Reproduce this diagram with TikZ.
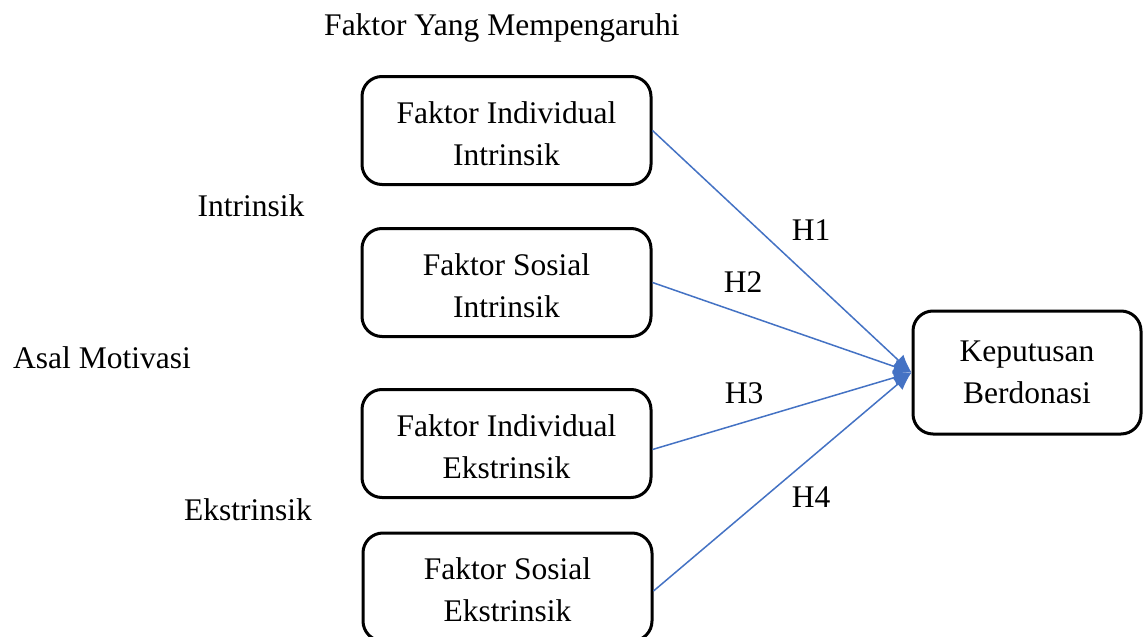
\documentclass[tikz,border=0pt]{standalone}
\usepackage{fontspec}
\setmainfont{Liberation Serif}
\usetikzlibrary{arrows.meta}
\definecolor{lineblue}{RGB}{68,114,196}
\newcommand{\boxtxt}[2]{\raisebox{-3pt}[\height][\depth]{\parbox{280pt}{\centering #1\\#2}}}
\begin{document}
\begin{tikzpicture}[x=1pt,y=-1pt,
  box/.style={draw,line width=3pt,rounded corners=20pt,align=center,
    minimum width=289pt,minimum height=108pt,inner sep=0pt,
    font=\fontsize{31.5}{42}\selectfont},
  lbl/.style={font=\fontsize{31.5}{42}\selectfont,inner sep=0pt},
  conn/.style={draw=lineblue,line width=1.5pt,-{Latex[length=18pt,width=15pt]}}]
\useasboundingbox[fill=white] (0,0) rectangle (1144,637);
\node[box] (b1) at (506.5,130.5) {\boxtxt{Faktor Individual}{Intrinsik}};
\node[box] (b2) at (506.5,282.5) {\boxtxt{Faktor Sosial}{Intrinsik}};
\node[box] (b3) at (506.5,443.5) {\boxtxt{Faktor Individual}{Ekstrinsik}};
\node[box] (b4) at (507.5,587) {\boxtxt{Faktor Sosial}{Ekstrinsik}};
\node[box,minimum width=228pt,minimum height=123pt] (kb) at (1027,372.5) {Keputusan\\Berdonasi};
\node[lbl] (title) at (502,28) {Faktor Yang Mempengaruhi};
\node[lbl] (intr) at (251,206) {Intrinsik};
\node[lbl] (asal) at (102,358) {Asal Motivasi};
\node[lbl] (ekst) at (248,510) {Ekstrinsik};
\draw[conn] (b1.east) -- (kb.west);
\draw[conn] (b2.east) -- (kb.west);
\draw[conn] ([yshift=-6pt]b3.east) -- (kb.west);
\draw[conn] ([yshift=-4pt]b4.east) -- (kb.west);
\node[lbl] (h1) at (811,230) {H1};
\node[lbl] (h2) at (743,282) {H2};
\node[lbl] (h3) at (744,393) {H3};
\node[lbl] (h4) at (811,497) {H4};
\end{tikzpicture}
\end{document}
